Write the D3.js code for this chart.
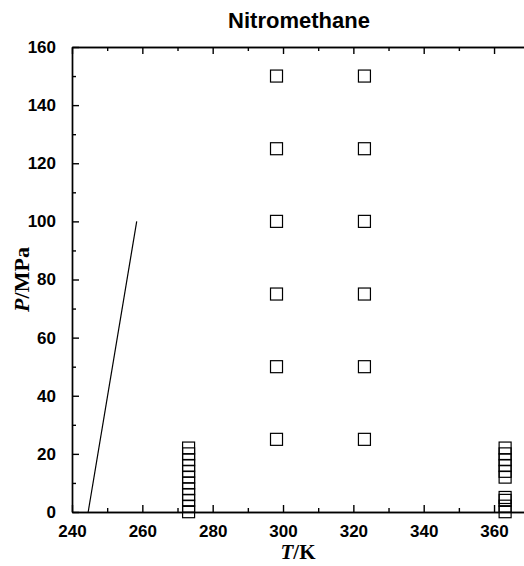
<!DOCTYPE html>
<html>
<head>
<meta charset="utf-8">
<script src="https://cdn.jsdelivr.net/npm/d3@7"></script>
<style>
    body { margin: 0; background: #fff; }
    svg { display: block; }
</style>
</head>
<body>
<svg id="chart" width="524" height="566"></svg>
<script>
// measured points (T in K, P in MPa)
const tempsMeasured = [298.15, 323.15];
const pressuresMeasured = [25, 50, 75, 100, 125, 150];
const stack273 = [0.1, 2, 4, 6, 8, 10, 12, 14, 16, 18, 20, 22];
const stack363 = [0.1, 2, 4, 5, 12, 14, 16, 18, 20, 22];
// melting line
const meltT = [244.6, 258.4];
const meltP = [0, 100];

const xTicks = [240, 260, 280, 300, 320, 340, 360];
const yTicks = [0, 20, 40, 60, 80, 100, 120, 140, 160];

const ctx = {
    LEFT: 72,
    TOP: 47,
    BOTTOM: 512,
    PX_PER_K: 3.517,
    SQ: 12,
    FONT: "'Liberation Sans', Arial, sans-serif",
    SERIF: "'Liberation Serif', 'Times New Roman', serif",
};

const svg = d3.select('#chart');

const x = d3.scaleLinear()
    .domain([240, 370])
    .range([ctx.LEFT, ctx.LEFT + 130 * ctx.PX_PER_K]);
const y = d3.scaleLinear()
    .domain([0, 160])
    .range([ctx.BOTTOM, ctx.TOP]);

const xMinor = d3.range(250, 371, 20);
const yMinor = d3.range(10, 160, 20);

// axes, ticks pointing inward
svg.append("g")
    .attr("transform", `translate(0,${ctx.BOTTOM})`)
    .call(d3.axisBottom(x).tickValues(xTicks).tickSizeInner(-7).tickSizeOuter(0).tickPadding(13));
svg.append("g")
    .attr("transform", `translate(0,${ctx.BOTTOM})`)
    .call(d3.axisBottom(x).tickValues(xMinor).tickSizeInner(-4).tickSizeOuter(0).tickFormat(""));

svg.append("g")
    .attr("transform", `translate(${ctx.LEFT},0)`)
    .call(d3.axisLeft(y).tickValues(yTicks).tickSizeInner(-7).tickSizeOuter(0).tickPadding(16));
svg.append("g")
    .attr("transform", `translate(${ctx.LEFT},0)`)
    .call(d3.axisLeft(y).tickValues(yMinor).tickSizeInner(-4).tickSizeOuter(0).tickFormat(""));

// top frame with ticks
svg.append("g")
    .attr("transform", `translate(0,${ctx.TOP})`)
    .call(d3.axisTop(x).tickValues(xTicks).tickSizeInner(-7).tickSizeOuter(0).tickFormat(""));
svg.append("g")
    .attr("transform", `translate(0,${ctx.TOP})`)
    .call(d3.axisTop(x).tickValues(xMinor).tickSizeInner(-4).tickSizeOuter(0).tickFormat(""));

svg.selectAll(".domain, .tick line")
    .attr("stroke", "#000")
    .attr("stroke-width", 1.4);

svg.selectAll(".tick text")
    .attr("font-family", ctx.FONT)
    .attr("font-size", "17px")
    .attr("font-weight", "bold")
    .attr("fill", "#000");

// melting line
svg.append("line")
    .attr("x1", x(meltT[0]))
    .attr("y1", y(meltP[0]))
    .attr("x2", x(meltT[1]))
    .attr("y2", y(meltP[1]))
    .attr("stroke", "#000")
    .attr("stroke-width", 1.2);

// squares
const pts = [];
tempsMeasured.forEach(t => pressuresMeasured.forEach(p => pts.push([t, p])));
stack273.forEach(p => pts.push([273.15, p]));
stack363.forEach(p => pts.push([363.15, p]));

svg.selectAll(".pt")
    .data(pts)
    .enter()
    .append("rect")
    .attr("class", "pt")
    .attr("x", d => x(d[0]) - ctx.SQ / 2)
    .attr("y", d => y(d[1]) - ctx.SQ / 2)
    .attr("width", ctx.SQ)
    .attr("height", ctx.SQ)
    .attr("fill", "none")
    .attr("stroke", "#000")
    .attr("stroke-width", 1.2);

// title
svg.append("text")
    .attr("x", 299)
    .attr("y", 28)
    .attr("text-anchor", "middle")
    .attr("font-family", ctx.FONT)
    .attr("font-size", "22px")
    .attr("font-weight", "bold")
    .text("Nitromethane");

// axis titles
const xt = svg.append("text")
    .attr("x", 298)
    .attr("y", 559)
    .attr("text-anchor", "middle")
    .attr("font-family", ctx.SERIF)
    .attr("font-size", "21px")
    .attr("font-weight", "bold");
xt.append("tspan").attr("font-style", "italic").text("T");
xt.append("tspan").text("/K");

const yt = svg.append("text")
    .attr("transform", `translate(29,${(ctx.TOP + ctx.BOTTOM) / 2}) rotate(-90)`)
    .attr("text-anchor", "middle")
    .attr("font-family", ctx.SERIF)
    .attr("font-size", "22px")
    .attr("font-weight", "bold");
yt.append("tspan").attr("font-style", "italic").text("P");
yt.append("tspan").text("/MPa");
</script>
</body>
</html>
